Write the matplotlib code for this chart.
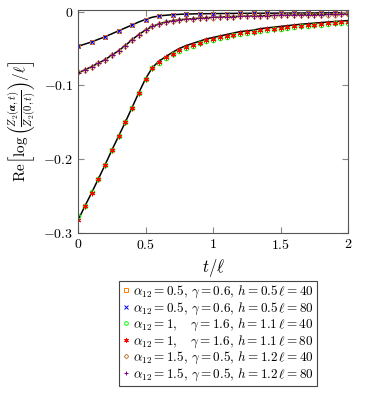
import numpy as np
import matplotlib
matplotlib.use('Agg')
import matplotlib.pyplot as plt

plt.rcParams['mathtext.fontset'] = 'cm'
plt.rcParams['font.family'] = 'serif'
plt.rcParams['font.serif'] = ['cmr10']
plt.rcParams['axes.formatter.use_mathtext'] = True

# time grids
t_fine = np.arange(41) * 0.05
t_coarse = np.arange(21) * 0.1

# alpha12 = 0.5, gamma = 0.6, h = 0.5
A_line = [-0.047, -0.044, -0.041, -0.0375, -0.034, -0.030, -0.026, -0.022, -0.018, -0.014,
          -0.0105, -0.0075, -0.0058, -0.0048, -0.0041, -0.0036, -0.0032, -0.0030, -0.0028, -0.0027,
          -0.0026, -0.0025, -0.0024, -0.0023, -0.0022, -0.0022, -0.0021, -0.0021, -0.0020, -0.0020,
          -0.0019, -0.0019, -0.0018, -0.0018, -0.0017, -0.0017, -0.0016, -0.0016, -0.0015, -0.0015, -0.0014]
A_l40 = [-0.047, -0.041, -0.034, -0.026, -0.018, -0.011, -0.006, -0.0042, -0.0033, -0.0029, -0.0027,
         -0.0025, -0.0024, -0.0023, -0.0022, -0.0021, -0.0020, -0.0019, -0.0018, -0.0017, -0.0016]
A_l80 = [-0.047, -0.041, -0.034, -0.026, -0.0182, -0.0108, -0.0059, -0.0041, -0.0032, -0.0028, -0.0026,
         -0.0025, -0.0024, -0.0023, -0.0022, -0.0021, -0.0020, -0.0019, -0.0018, -0.0017, -0.0016]

# alpha12 = 1, gamma = 1.6, h = 1.1
C_line = [-0.283, -0.264, -0.246, -0.227, -0.208, -0.188, -0.169, -0.150, -0.130, -0.110,
          -0.091, -0.076, -0.067, -0.061, -0.055, -0.050, -0.046, -0.043, -0.040, -0.037,
          -0.035, -0.033, -0.031, -0.029, -0.027, -0.026, -0.025, -0.023, -0.022, -0.021,
          -0.020, -0.019, -0.018, -0.017, -0.0163, -0.0155, -0.0148, -0.0140, -0.0133, -0.0127, -0.0120]
C_l40 = [-0.277, -0.263, -0.245, -0.227, -0.208, -0.188, -0.169, -0.150, -0.130, -0.110,
         -0.091, -0.077, -0.069, -0.063, -0.058, -0.053, -0.049, -0.046, -0.043, -0.040,
         -0.038, -0.036, -0.034, -0.032, -0.030, -0.029, -0.028, -0.026, -0.025, -0.024,
         -0.023, -0.022, -0.021, -0.020, -0.019, -0.0185, -0.018, -0.017, -0.016, -0.0155, -0.015]
C_l80 = [-0.283, -0.264, -0.246, -0.227, -0.208, -0.188, -0.169, -0.150, -0.130, -0.110,
         -0.091, -0.076, -0.068, -0.062, -0.057, -0.052, -0.048, -0.045, -0.042, -0.039,
         -0.037, -0.035, -0.033, -0.031, -0.029, -0.028, -0.027, -0.025, -0.024, -0.023,
         -0.022, -0.021, -0.020, -0.019, -0.018, -0.0175, -0.017, -0.016, -0.015, -0.0145, -0.014]

# alpha12 = 1.5, gamma = 0.5, h = 1.2
B_line = [-0.083, -0.079, -0.0745, -0.070, -0.065, -0.059, -0.053, -0.046, -0.038, -0.031,
          -0.025, -0.020, -0.0165, -0.014, -0.0123, -0.011, -0.0102, -0.0095, -0.0088, -0.0082,
          -0.0077, -0.0073, -0.0069, -0.0066, -0.0063, -0.0060, -0.0058, -0.0055, -0.0053, -0.0051,
          -0.0049, -0.0047, -0.0045, -0.0044, -0.0042, -0.0041, -0.0039, -0.0038, -0.0037, -0.0036, -0.0035]
B_l40 = [-0.082, -0.079, -0.0745, -0.070, -0.065, -0.059, -0.053, -0.046, -0.038, -0.031,
         -0.025, -0.020, -0.0166, -0.0142, -0.0125, -0.0112, -0.0104, -0.0097, -0.0090, -0.0084,
         -0.0079, -0.0075, -0.0071, -0.0068, -0.0065, -0.0062, -0.0060, -0.0057, -0.0055, -0.0053,
         -0.0051, -0.0049, -0.0047, -0.0046, -0.0044, -0.0043, -0.0041, -0.0040, -0.0039, -0.0038, -0.0037]
B_l80 = B_line

labels = [r'$\alpha_{12}=0.5,\,\gamma=0.6,\,h=0.5\,\ell=40$',
          r'$\alpha_{12}=0.5,\,\gamma=0.6,\,h=0.5\,\ell=80$',
          r'$\alpha_{12}=1,\quad\gamma=1.6,\,h=1.1\,\ell=40$',
          r'$\alpha_{12}=1,\quad\gamma=1.6,\,h=1.1\,\ell=80$',
          r'$\alpha_{12}=1.5,\,\gamma=0.5,\,h=1.2\,\ell=40$',
          r'$\alpha_{12}=1.5,\,\gamma=0.5,\,h=1.2\,\ell=80$']

fig = plt.figure(figsize=(3.74, 3.94), dpi=100)
ax = fig.add_axes([0.2086, 0.409, 0.722, 0.566])

ms = 3.3
ax.plot(t_fine, A_line, color='black', lw=1.1, zorder=1)
ax.plot(t_fine, C_line, color='black', lw=1.1, zorder=1)
ax.plot(t_fine, B_line, color='black', lw=1.1, zorder=1)

ax.plot(t_coarse, A_l40, ls='none', marker='s', mfc='none', mec='#FF8000', ms=ms, mew=0.7, label=labels[0])
ax.plot(t_coarse, A_l80, ls='none', marker='x', color='#0000FF', ms=ms, mew=0.7, label=labels[1])
ax.plot(t_fine, C_l40, ls='none', marker='o', mfc='none', mec='#00FF00', ms=ms, mew=0.7, label=labels[2])
ax.plot(t_fine, C_l80, ls='none', marker=(6, 2, 0), color='#FF0000', ms=ms + 0.7, mew=0.7, label=labels[3])
ax.plot(t_fine, B_l40, ls='none', marker='D', mfc='none', mec='#BF8040', ms=ms - 0.4, mew=0.7, label=labels[4])
ax.plot(t_fine, B_l80, ls='none', marker='+', color='#800080', ms=ms + 1, mew=0.7, label=labels[5])

ax.set_xlim(0, 2)
ax.set_ylim(-0.3, 0.0025)
ax.set_xticks([0, 0.5, 1, 1.5, 2])
ax.set_xticklabels(['$0$', '$0.5$', '$1$', '$1.5$', '$2$'])
ax.set_yticks([-0.3, -0.2, -0.1, 0])
ax.set_yticklabels(['$-0.3$', '$-0.2$', '$-0.1$', '$0$'])
ax.tick_params(direction='in', top=True, right=True, labelsize=10, color='#888888', length=4)
for s in ax.spines.values():
    s.set_color('#555555')
    s.set_linewidth(0.8)

ax.set_xlabel(r'$t/\ell$', fontsize=12, labelpad=4)
ax.set_ylabel(r'$\mathrm{Re}\left[\log\left(\frac{Z_2(\boldsymbol{\alpha},t)}{Z_2(\mathbf{0},t)}\right)/\ell\right]$',
              fontsize=11, labelpad=4)

leg = fig.legend(loc='center', bbox_to_anchor=(0.584, 0.154), fontsize=9.5, fancybox=False,
                 edgecolor='#444444', framealpha=1, handlelength=0.5, handletextpad=0.3,
                 borderpad=0.25, labelspacing=0.02, borderaxespad=0, markerscale=0.8)
leg.get_frame().set_linewidth(0.8)

fig.savefig('out.png', dpi=100)
